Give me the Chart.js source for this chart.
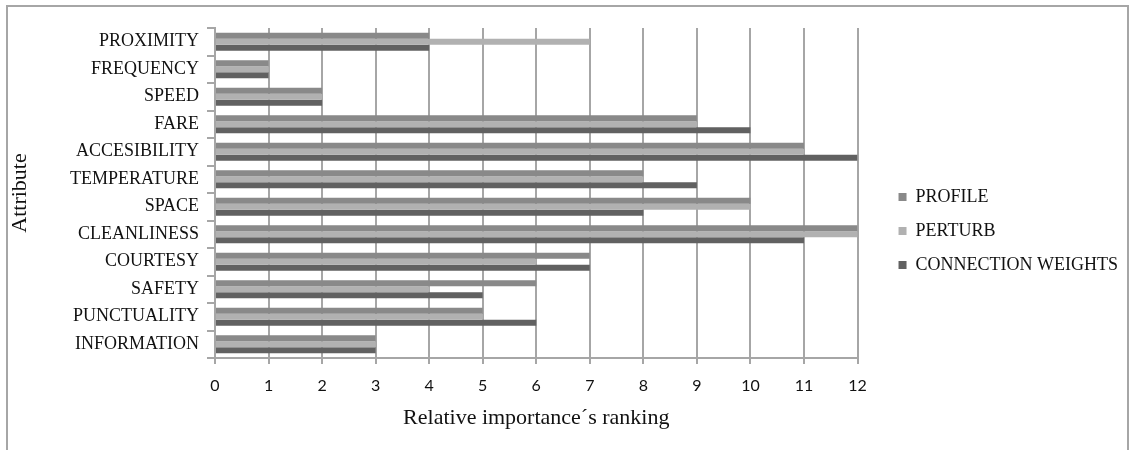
<!DOCTYPE html>
<html>
<head>
<meta charset="utf-8">
<script src="https://cdn.jsdelivr.net/npm/chart.js@4/dist/chart.umd.min.js"></script>
<style>
  html, body { margin: 0; padding: 0; background: #fff; }
  #frame { position: absolute; left: 6px; top: 5px; width: 1123px; height: 470px; border: 2px solid #a6a6a6; box-sizing: border-box; }
  #wrap { position: absolute; left: 0; top: 0; width: 1136px; height: 450px; }
</style>
</head>
<body>
<div id="frame"></div>
<div id="wrap"><canvas id="c" width="1136" height="450"></canvas></div>
<script>
const categories = ["PROXIMITY", "FREQUENCY", "SPEED", "FARE", "ACCESIBILITY", "TEMPERATURE", "SPACE", "CLEANLINESS", "COURTESY", "SAFETY", "PUNCTUALITY", "INFORMATION"];
const profile = [4, 1, 2, 9, 11, 8, 10, 12, 7, 6, 5, 3];
const perturb = [7, 1, 2, 9, 11, 8, 10, 12, 6, 4, 5, 3];
const connectionWeights = [4, 1, 2, 10, 12, 9, 8, 11, 7, 5, 6, 3];
const xTicks = [0, 1, 2, 3, 4, 5, 6, 7, 8, 9, 10, 11, 12];

const serif = "'Liberation Serif', 'Times New Roman', serif";
const ink = '#111111';

// shifts the legend a little away from the plot area (layout gap)
const legendShift = {
  id: 'legendShift',
  afterLayout(chart) {
    const lg = chart.legend;
    if (!lg) return;
    lg.left += 25; lg.right += 25;
    lg.top -= 8; lg.bottom -= 8;
  }
};

new Chart(document.getElementById('c'), {
  type: 'bar',
  data: {
    labels: categories,
    datasets: [
      { label: 'PROFILE', data: profile, backgroundColor: '#898989' },
      { label: 'PERTURB', data: perturb, backgroundColor: '#b1b1b1' },
      { label: 'CONNECTION WEIGHTS', data: connectionWeights, backgroundColor: '#616161' }
    ]
  },
  plugins: [legendShift],
  options: {
    indexAxis: 'y',
    responsive: false,
    animation: false,
    devicePixelRatio: 1,
    layout: { padding: { left: 7, top: 28, right: 33, bottom: 0 } },
    datasets: { bar: { categoryPercentage: 0.66, barPercentage: 1.0 } },
    scales: {
      x: {
        min: 0, max: 12,
        afterBuildTicks: (s) => { s.ticks = xTicks.map(v => ({ value: v })); },
        afterFit: (s) => { s.height = 92; },
        grid: { color: '#a6a6a6', lineWidth: 2, tickLength: 6, drawOnChartArea: true },
        border: { color: '#a6a6a6', width: 2 },
        ticks: { color: ink, font: { family: "Lato, 'Open Sans', sans-serif", size: 16 }, padding: 12 },
        title: { display: true, text: 'Relative importance´s ranking', color: ink, font: { family: serif, size: 22 }, padding: { top: 4, bottom: 19 } }
      },
      y: {
        afterFit: (s) => { s.width = 208; },
        grid: { offset: true, drawOnChartArea: false, color: '#a6a6a6', lineWidth: 2, tickLength: 8 },
        border: { color: '#a6a6a6', width: 2 },
        ticks: { color: ink, font: { family: serif, size: 18 }, padding: 8 },
        title: { display: true, text: 'Attribute', color: ink, font: { family: serif, size: 22 }, padding: { top: 0, bottom: 4 } }
      }
    },
    plugins: {
      legend: {
        position: 'right',
        align: 'center',
        labels: { boxWidth: 8, boxHeight: 8, padding: 16, color: ink, font: { family: serif, size: 18 } }
      },
      tooltip: { enabled: false }
    }
  }
});
</script>
</body>
</html>
